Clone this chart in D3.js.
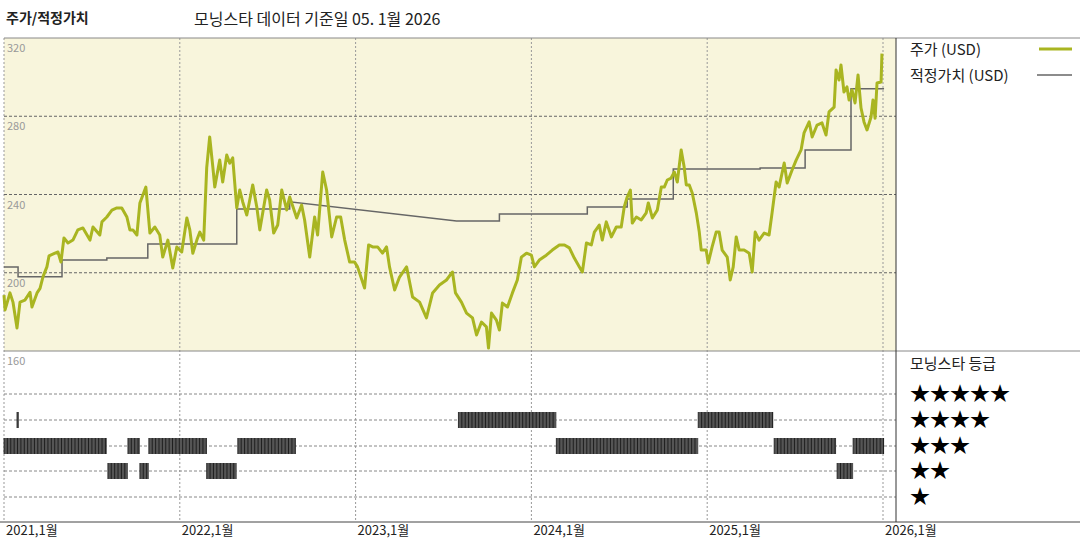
<!DOCTYPE html>
<html>
<head>
<meta charset="utf-8">
<script src="https://cdn.jsdelivr.net/npm/d3@7"></script>
<style>
  body { margin: 0; background: #fff; }
  text { font-family: "Noto Sans CJK KR", "Noto Sans", sans-serif; }
</style>
</head>
<body>
<div id="chart"></div>
<script>
// 주가 (decimal year, USD)
var priceT = [2021.000,2021.006,2021.034,2021.051,2021.074,2021.091,2021.119,2021.148,2021.159,2021.188,2021.205,2021.222,2021.244,2021.256,2021.290,2021.307,2021.324,2021.341,2021.364,2021.392,2021.420,2021.449,2021.489,2021.506,2021.545,2021.557,2021.585,2021.614,2021.642,2021.670,2021.699,2021.716,2021.733,2021.756,2021.773,2021.807,2021.830,2021.858,2021.886,2021.903,2021.932,2021.960,2021.983,2022.011,2022.040,2022.057,2022.074,2022.097,2022.114,2022.136,2022.153,2022.170,2022.188,2022.199,2022.227,2022.244,
  2022.267,2022.284,2022.301,2022.324,2022.341,2022.358,2022.381,2022.415,2022.438,2022.455,2022.494,2022.511,2022.534,2022.557,2022.580,2022.608,2022.625,2022.665,2022.693,2022.710,2022.739,2022.767,2022.784,2022.813,2022.835,2022.864,2022.892,2022.915,2022.938,2022.966,2022.994,2023.011,2023.051,2023.074,2023.097,2023.125,2023.153,2023.176,2023.193,2023.222,2023.250,2023.290,2023.324,2023.364,2023.403,2023.438,2023.477,2023.517,
  2023.551,2023.568,2023.602,2023.631,2023.665,2023.688,2023.716,2023.744,2023.756,2023.773,2023.801,2023.818,2023.835,2023.864,2023.892,2023.920,2023.943,2023.972,2024.000,2024.017,2024.045,2024.085,2024.119,2024.159,2024.188,2024.216,2024.244,2024.273,2024.290,2024.313,2024.341,2024.358,2024.386,2024.403,2024.426,2024.455,2024.483,2024.511,2024.528,2024.545,2024.563,2024.574,2024.597,2024.625,2024.653,2024.665,2024.688,2024.716,2024.739,2024.756,2024.773,
  2024.795,2024.813,2024.830,2024.852,2024.869,2024.881,2024.898,2024.915,2024.938,2024.955,2024.966,2024.994,2025.006,2025.028,2025.051,2025.068,2025.085,2025.114,2025.131,2025.148,2025.165,2025.182,2025.210,2025.239,2025.256,2025.273,2025.295,2025.324,2025.352,2025.369,2025.392,2025.409,2025.438,2025.455,2025.483,2025.506,2025.534,2025.551,2025.580,2025.597,2025.625,2025.653,2025.676,2025.693,2025.722,2025.733,2025.750,2025.761,2025.778,2025.795,2025.807,2025.824,2025.841,2025.858,2025.875,2025.892,2025.909,2025.932,2025.943,2025.955,2025.966,2025.989,2025.994,2026.006];
var priceV = [188.6,181,189.7,185,171.8,185,186,190,182.5,189.7,192,198,203,208.6,210,210.6,205.5,217.8,215.2,216.7,221.9,222.9,216.7,223.4,219.3,226,228.5,232,233.1,233.1,228.5,221.9,221.9,219.3,235.7,243.8,220.3,223.4,219.3,208,216.7,202.4,213.2,210.6,228,221.9,210,216.7,220.8,216.7,253.6,269.4,254,243.8,257.6,246.4,
  260.2,256,258.7,233.1,242.3,236.2,229.5,244.9,233.6,221.9,242.3,237.2,220.3,224.4,242.3,232.1,238.7,228,234.6,227,208,228.5,219.3,251.5,242.3,218.3,228.5,228.5,216.7,205.5,205.5,203,192.2,214.2,213.2,213.2,210,213.2,203,191.2,197.8,203,187.6,185,176.9,189.7,193.7,196.3,
  200.4,189.7,185,179.4,176.9,168.2,174.8,172.3,161.5,179.4,175.8,170.7,184.5,182.5,189.7,196.3,208,210,209,203,206.5,209,211.6,214.2,214.2,212.7,207.5,203,200.4,215.2,214.2,220.8,224.4,216.7,226,218.3,223.4,223.4,233.6,238.7,242.3,225.4,228.5,227,230.6,235.7,228,232,243.8,243.8,247.4,
  248.4,251.5,246.4,262.8,254,244.9,244.9,240.8,230.6,220.8,211.6,211.6,205,213.2,220.8,220.8,211.6,208,196.3,203,218.3,211.6,211.6,210,200.4,220.8,216.7,220.3,219.3,230.6,246.4,243.8,256.1,245.9,252.5,257.6,262.8,271.5,277.1,269.4,275.5,276.6,270.4,282.2,284.7,303.7,298.5,306.2,292.4,295,288.3,293.4,286.8,301.1,284.2,277.1,273,279.6,288.3,279,297,297.5,312];

// 적정가치 (vertices of the step line)
var fairT = [2021.000,2021.080,2021.080,2021.330,2021.330,2021.585,2021.585,2021.818,2021.818,2022.324,2022.324,2022.625,2022.625,2023.574,2023.818,2023.818,2024.318,2024.318,2024.545,2024.545,2024.807,2024.807,2025.301,2025.301,2025.557,2025.557,2025.818,2025.818,2026.006];
var fairV = [203,203,198,198,206.5,206.5,207.5,207.5,214.7,214.7,232.6,232.6,236.3,226.5,226.5,230,230,233.6,233.6,237.7,237.7,253,253,253.5,253.5,262.8,262.8,294,294];

// 모닝스타 등급 구간 [시작, 끝, 별 수]
var ratingStart = [2021.000,2021.074,2021.591,2021.705,2021.773,2021.824,2022.153,2022.330,2023.585,2024.142,2024.949,2025.381,2025.739,2025.830];
var ratingEnd   = [2021.585,2021.085,2021.705,2021.773,2021.824,2022.153,2022.324,2022.659,2024.142,2024.949,2025.375,2025.733,2025.830,2026.006];
var ratingStars = [3,4,2,3,2,3,2,3,4,3,4,3,2,3];

var yearTicks = [2021,2022,2023,2024,2025,2026];
var priceTicks = [320,280,240,200,160];
var starLevels = [5,4,3,2,1];

var W = 1080, H = 540;
var padL = 4, plotRight = 896, padT = 38, midY = 351, baseY = 522;

var svg = d3.select("#chart").append("svg")
  .attr("width", W).attr("height", H);

var x = d3.scaleLinear().domain([2021, 2026]).range([padL, 883]);
var y = d3.scaleLinear().domain([160, 320]).range([midY, padT]);
var rowY = d3.scaleOrdinal().domain(starLevels).range([394, 420, 446, 471, 497]);

// 배경
svg.append("rect").attr("x", padL).attr("y", padT)
  .attr("width", plotRight - padL).attr("height", midY - padT).attr("fill", "#f8f5dc");

// 세로 그리드
svg.selectAll(".vgrid").data(yearTicks).enter().append("line")
  .attr("x1", d => x(d)).attr("x2", d => x(d))
  .attr("y1", padT).attr("y2", baseY)
  .attr("stroke", "#999").attr("stroke-dasharray", "2,2").attr("stroke-width", 1);

// 가로 그리드 (주가)
svg.selectAll(".hgrid").data([280, 240, 200]).enter().append("line")
  .attr("x1", padL).attr("x2", plotRight)
  .attr("y1", d => y(d)).attr("y2", d => y(d))
  .attr("stroke", "#666").attr("stroke-dasharray", "3,2");

svg.selectAll(".ylab").data(priceTicks).enter().append("text")
  .attr("x", padL + 3).attr("y", d => y(d) + 14)
  .attr("font-size", 11).attr("fill", "#999")
  .text(d => d);

// 등급 행
svg.selectAll(".rgrid").data(starLevels).enter().append("line")
  .attr("x1", padL).attr("x2", plotRight)
  .attr("y1", d => rowY(d)).attr("y2", d => rowY(d))
  .attr("stroke", "#888").attr("stroke-dasharray", "3,2");

// 등급 막대
ratingStars.forEach(function (s, i) {
  var x0 = x(ratingStart[i]), x1 = x(ratingEnd[i]);
  var cy = rowY(s);
  svg.append("rect").attr("x", x0).attr("y", cy - 8)
    .attr("width", Math.max(1.5, x1 - x0)).attr("height", 16).attr("fill", "#555");
  var wk = d3.range(ratingStart[i], ratingEnd[i], 1 / 52);
  svg.selectAll(null).data(wk).enter().append("line")
    .attr("x1", d => x(d)).attr("x2", d => x(d))
    .attr("y1", cy - 8).attr("y2", cy + 8)
    .attr("stroke", "#111").attr("stroke-width", 0.8);
});

// 적정가치 선
var line = d3.line().x(d => x(d[0])).y(d => y(d[1]));
svg.append("path").datum(fairT.map((t, i) => [t, fairV[i]]))
  .attr("d", line).attr("fill", "none")
  .attr("stroke", "#666").attr("stroke-width", 1.5);

// 주가 선
svg.append("path").datum(priceT.map((t, i) => [t, priceV[i]]))
  .attr("d", line).attr("fill", "none")
  .attr("stroke", "#a9b521").attr("stroke-width", 3)
  .attr("stroke-linejoin", "round");

// 테두리
svg.append("line").attr("x1", padL).attr("x2", W).attr("y1", padT).attr("y2", padT).attr("stroke", "#888");
svg.append("line").attr("x1", padL).attr("x2", W).attr("y1", midY).attr("y2", midY).attr("stroke", "#888");
svg.append("line").attr("x1", 0).attr("x2", W).attr("y1", baseY).attr("y2", baseY).attr("stroke", "#444");
svg.append("line").attr("x1", plotRight).attr("x2", plotRight).attr("y1", padT).attr("y2", baseY).attr("stroke", "#333");

// x축 라벨
svg.selectAll(".xlab").data(yearTicks).enter().append("text")
  .attr("x", d => x(d) + 2).attr("y", 535)
  .attr("font-size", 13).attr("fill", "#222")
  .text(d => d + ",1월");

// 제목
svg.append("text").attr("x", 6).attr("y", 23).attr("font-size", 14).attr("font-weight", "bold")
  .attr("fill", "#222").text("주가/적정가치");
svg.append("text").attr("x", 194).attr("y", 25).attr("font-size", 16)
  .attr("fill", "#222").text("모닝스타 데이터 기준일 05. 1월 2026");

// 범례
svg.append("text").attr("x", 910).attr("y", 55).attr("font-size", 15).attr("fill", "#222").text("주가 (USD)");
svg.append("line").attr("x1", 1039).attr("x2", 1072).attr("y1", 49).attr("y2", 49)
  .attr("stroke", "#a9b521").attr("stroke-width", 3);
svg.append("text").attr("x", 910).attr("y", 81).attr("font-size", 15).attr("fill", "#222").text("적정가치 (USD)");
svg.append("line").attr("x1", 1037).attr("x2", 1072).attr("y1", 75).attr("y2", 75)
  .attr("stroke", "#666").attr("stroke-width", 1.5);

svg.append("text").attr("x", 910).attr("y", 369).attr("font-size", 15).attr("fill", "#222").text("모닝스타 등급");
svg.selectAll(".stars").data(starLevels).enter().append("text")
  .attr("x", 910).attr("y", d => rowY(d) + 7)
  .attr("font-size", 20).attr("fill", "#000")
  .text(d => "★".repeat(d));
</script>
</body>
</html>
